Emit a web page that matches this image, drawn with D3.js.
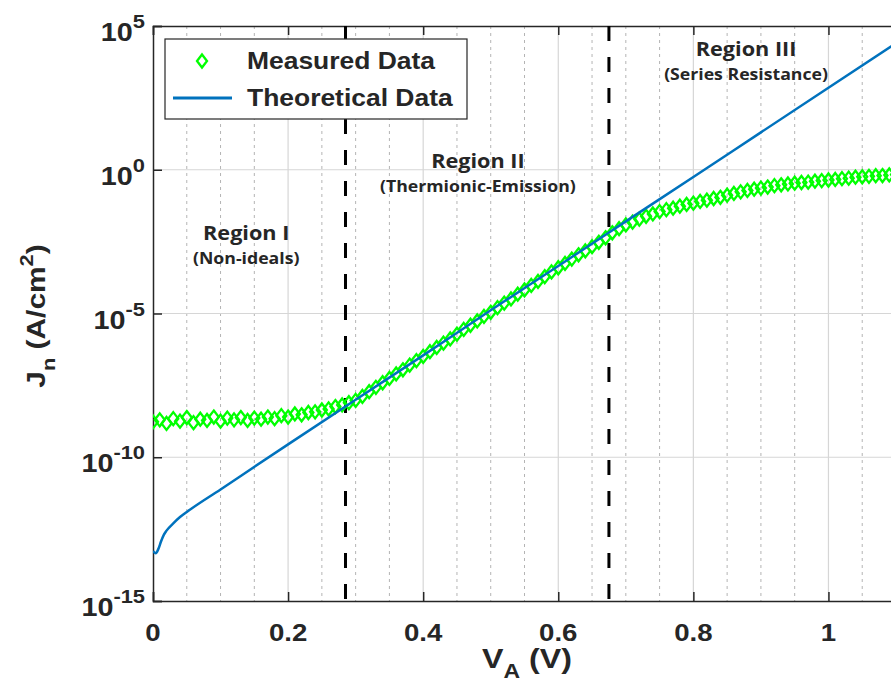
<!DOCTYPE html>
<html>
<head>
<meta charset="utf-8">
<script src="https://cdn.jsdelivr.net/npm/d3@7"></script>
<style>
  body { margin: 0; background: #fff; }
  text { font-family: "Liberation Sans", Arial, Helvetica, sans-serif; font-weight: bold; fill: #262626; }
  .region text { font-family: "Open Sans", sans-serif; }
</style>
</head>
<body>
<svg id="chart" width="891" height="700"></svg>
<script>
// measured J-V data (A/cm^2), one point every 10 mV
var vMeasured = [
  0.00, 0.01, 0.02, 0.03, 0.04, 0.05, 0.06, 0.07, 0.08, 0.09,
  0.10, 0.11, 0.12, 0.13, 0.14, 0.15, 0.16, 0.17, 0.18, 0.19,
  0.20, 0.21, 0.22, 0.23, 0.24, 0.25, 0.26, 0.27, 0.28, 0.29,
  0.30, 0.31, 0.32, 0.33, 0.34, 0.35, 0.36, 0.37, 0.38, 0.39,
  0.40, 0.41, 0.42, 0.43, 0.44, 0.45, 0.46, 0.47, 0.48, 0.49,
  0.50, 0.51, 0.52, 0.53, 0.54, 0.55, 0.56, 0.57, 0.58, 0.59,
  0.60, 0.61, 0.62, 0.63, 0.64, 0.65, 0.66, 0.67, 0.68, 0.69,
  0.70, 0.71, 0.72, 0.73, 0.74, 0.75, 0.76, 0.77, 0.78, 0.79,
  0.80, 0.81, 0.82, 0.83, 0.84, 0.85, 0.86, 0.87, 0.88, 0.89,
  0.90, 0.91, 0.92, 0.93, 0.94, 0.95, 0.96, 0.97, 0.98, 0.99,
  1.00, 1.01, 1.02, 1.03, 1.04, 1.05, 1.06, 1.07, 1.08, 1.09,
  1.10
];
var jMeasured = [
  1.7e-9, 2.0e-9, 1.5e-9, 2.2e-9, 1.8e-9, 2.4e-9, 1.6e-9, 2.1e-9, 1.9e-9, 2.5e-9,
  1.8e-9, 2.3e-9, 2.0e-9, 2.4e-9, 1.9e-9, 2.3e-9, 2.1e-9, 2.5e-9, 2.2e-9, 2.8e-9,
  2.5e-9, 3.2e-9, 3.0e-9, 3.6e-9, 3.8e-9, 4.4e-9, 4.8e-9, 5.8e-9, 6.6e-9, 7.9e-9,
  9.5e-9, 1.3e-8, 1.9e-8, 2.7e-8, 3.9e-8, 5.5e-8, 7.9e-8, 1.1e-7, 1.6e-7, 2.3e-7,
  3.2e-7, 4.7e-7, 6.6e-7, 9.3e-7, 1.3e-6, 1.9e-6, 2.8e-6, 3.9e-6, 5.5e-6, 7.9e-6,
  1.1e-5, 1.6e-5, 2.3e-5, 3.2e-5, 4.7e-5, 6.6e-5, 9.5e-5, 1.3e-4, 1.9e-4, 2.8e-4,
  3.9e-4, 5.5e-4, 7.8e-4, 1.1e-3, 1.5e-3, 2.1e-3, 3.0e-3, 4.3e-3, 6.4e-3, 8.9e-3,
  1.2e-2, 1.5e-2, 1.9e-2, 2.4e-2, 2.9e-2, 3.5e-2, 4.1e-2, 4.6e-2, 5.4e-2, 6.2e-2,
  6.9e-2, 7.9e-2, 8.7e-2, 0.10, 0.11, 0.13, 0.15, 0.17, 0.19, 0.21,
  0.23, 0.25, 0.28, 0.30, 0.32, 0.34, 0.36, 0.37, 0.40, 0.42,
  0.44, 0.46, 0.49, 0.51, 0.55, 0.57, 0.59, 0.62, 0.63, 0.66,
  0.68
];

// theoretical curve
var vTheory = [0, 0.004, 0.008, 0.012, 0.016, 0.02, 0.03, 0.04, 0.05, 0.1, 0.2, 0.3, 0.4, 0.5, 0.6, 0.7, 0.8, 0.9, 1.0, 1.1];
var jTheory = [5.4e-14, 4.6e-14, 6.5e-14, 1.2e-13, 2.0e-13, 2.8e-13, 5.0e-13, 8.3e-13, 1.25e-12, 7.6e-12, 2.8e-10,
               1.0e-8, 3.5e-7, 1.3e-5, 4.5e-4, 1.6e-2, 0.56, 20, 710, 2.5e4];

// region boundaries (V) and labels
var boundaries = [0.285, 0.675];
var regionTitles = ["Region I", "Region II", "Region III"];
var regionNotes = ["(Non-ideals)", "(Thermionic-Emission)", "(Series Resistance)"];

// axis ticks
var xTicks = [0, 0.2, 0.4, 0.6, 0.8, 1];
var xTickLabels = ["0", "0.2", "0.4", "0.6", "0.8", "1"];
var xMinor = [0.05, 0.1, 0.15, 0.25, 0.3, 0.35, 0.45, 0.5, 0.55, 0.65, 0.7, 0.75, 0.85, 0.9, 0.95, 1.05];
var yTicks = [1e-15, 1e-10, 1e-5, 1e0, 1e5];
var yTickExp = ["-15", "-10", "-5", "0", "5"];

var legendNames = ["Measured Data", "Theoretical Data"];

var svg = d3.select("#chart"),
    pLeft = 153, pRight = 896, pTop = 26, pBottom = 601,
    sx = 1.15; // wide lettering of the original

var x = d3.scaleLinear().domain([0, 1.1]).range([pLeft, pRight]);
var y = d3.scaleLog().domain([1e-15, 1e5]).range([pBottom, pTop]);

var measured = vMeasured.map(function(v, i) { return [v, jMeasured[i]]; });
var theory = vTheory.map(function(v, i) { return [v, jTheory[i]]; });

// region annotation anchors (data coords)
var regionAt = [[0.138, 3.6e-3], [0.481, 1.15], [0.878, 9e3]];

svg.append("clipPath").attr("id", "clip")
  .append("rect")
    .attr("x", pLeft).attr("y", pTop)
    .attr("width", pRight - pLeft).attr("height", pBottom - pTop);

// grid
var grid = svg.append("g");
grid.selectAll(".minor").data(xMinor).enter().append("line")
    .attr("x1", function(d) { return x(d); }).attr("x2", function(d) { return x(d); })
    .attr("y1", pTop).attr("y2", pBottom)
    .attr("stroke", "#b4b4b4").attr("stroke-width", 1).attr("stroke-dasharray", "3,4");
grid.selectAll(".majx").data(xTicks.slice(1)).enter().append("line")
    .attr("x1", function(d) { return x(d); }).attr("x2", function(d) { return x(d); })
    .attr("y1", pTop).attr("y2", pBottom)
    .attr("stroke", "#d6d6d6").attr("stroke-width", 1.2);
grid.selectAll(".majy").data(yTicks.slice(1, -1)).enter().append("line")
    .attr("x1", pLeft).attr("x2", pRight)
    .attr("y1", function(d) { return y(d); }).attr("y2", function(d) { return y(d); })
    .attr("stroke", "#d6d6d6").attr("stroke-width", 1.2);

// axes
var axB = svg.append("g").attr("transform", "translate(0," + pBottom + ")")
    .call(d3.axisBottom(x).tickValues(xTicks).tickSize(-9).tickFormat(""));
var axT = svg.append("g").attr("transform", "translate(0," + pTop + ")")
    .call(d3.axisTop(x).tickValues(xTicks).tickSize(-9).tickFormat(""));
var axL = svg.append("g").attr("transform", "translate(" + pLeft + ",0)")
    .call(d3.axisLeft(y).tickValues(yTicks).tickSize(-9).tickFormat(""));
[axB, axT, axL].forEach(function(a) {
  a.select(".domain").attr("stroke", "#262626").attr("stroke-width", 1.5);
  a.selectAll(".tick line").attr("stroke", "#262626").attr("stroke-width", 1.5);
});

// tick labels
svg.selectAll(".xlab").data(xTicks).enter().append("text")
    .attr("transform", function(d) { return "translate(" + x(d) + ",641) scale(" + sx + ",1)"; })
    .attr("text-anchor", "middle")
    .style("font-size", "24px")
    .text(function(d, i) { return xTickLabels[i]; });

var yl = svg.selectAll(".ylab").data(yTicks).enter().append("text")
    .attr("transform", function(d) { return "translate(145," + (y(d) + 15) + ") scale(" + sx + ",1)"; })
    .attr("text-anchor", "end")
    .style("font-size", "25px");
yl.append("tspan").text("10");
yl.append("tspan").attr("dy", -13).style("font-size", "19px").text(function(d, i) { return yTickExp[i]; });

// axis titles
var xt = svg.append("text")
    .attr("transform", "translate(527,668) scale(" + sx + ",1)")
    .attr("text-anchor", "middle")
    .style("font-size", "28px");
xt.append("tspan").text("V");
xt.append("tspan").attr("dy", 10).style("font-size", "20px").text("A");
xt.append("tspan").attr("dy", -10).text(" (V)");

var ytl = svg.append("text")
    .attr("transform", "translate(45,316) rotate(-90) scale(" + sx + ",1)")
    .attr("text-anchor", "middle")
    .style("font-size", "26px");
ytl.append("tspan").text("J");
ytl.append("tspan").attr("dy", 10).style("font-size", "19px").text("n");
ytl.append("tspan").attr("dy", -10).text(" (A/cm");
ytl.append("tspan").attr("dy", -12).style("font-size", "19px").text("2");
ytl.append("tspan").attr("dy", 12).text(")");

// plot content
var plot = svg.append("g").attr("clip-path", "url(#clip)");

plot.selectAll(".bound").data(boundaries).enter().append("line")
    .attr("x1", function(d) { return x(d); }).attr("x2", function(d) { return x(d); })
    .attr("y1", y(1e5)).attr("y2", y(1e-15))
    .attr("stroke", "#000").attr("stroke-width", 3).attr("stroke-dasharray", "15,16");

var diamond = "M0,-6.5L5,0L0,6.5L-5,0Z";

plot.selectAll(".meas").data(measured).enter().append("path")
    .attr("d", diamond)
    .attr("transform", function(d) { return "translate(" + x(d[0]) + "," + y(d[1]) + ")"; })
    .attr("fill", "none").attr("stroke", "#00ff00").attr("stroke-width", 2.3);

plot.append("path")
    .datum(theory)
    .attr("fill", "none").attr("stroke", "#0072bd").attr("stroke-width", 2.5)
    .attr("d", d3.line().curve(d3.curveMonotoneX)
      .x(function(d) { return x(d[0]); }).y(function(d) { return y(d[1]); }));

// region annotations
var reg = svg.selectAll(".region").data(regionTitles).enter().append("g")
    .attr("class", "region")
    .attr("transform", function(d, i) { return "translate(" + x(regionAt[i][0]) + "," + y(regionAt[i][1]) + ")"; });
reg.append("text")
    .attr("text-anchor", "middle").attr("transform", "scale(1.14,1)")
    .style("font-size", "19px").text(function(d) { return d; });
reg.append("text")
    .attr("text-anchor", "middle").attr("transform", "translate(0,24) scale(1.14,1)")
    .style("font-size", "15.5px").text(function(d, i) { return regionNotes[i]; });

// legend
var lg = svg.append("g").attr("transform", "translate(165,39)");
lg.append("rect").attr("width", 302).attr("height", 80)
    .attr("fill", "#fff").attr("stroke", "#262626").attr("stroke-width", 1.2);
lg.append("path").attr("d", diamond).attr("transform", "translate(37,22)")
    .attr("fill", "none").attr("stroke", "#00ff00").attr("stroke-width", 2.3);
lg.append("line").attr("x1", 8).attr("x2", 67).attr("y1", 59).attr("y2", 59)
    .attr("stroke", "#0072bd").attr("stroke-width", 3);
lg.selectAll(".lt").data(legendNames).enter().append("text")
    .attr("transform", function(d, i) { return "translate(82," + (30 + i * 37) + ") scale(" + sx + ",1)"; })
    .style("font-size", "23px")
    .text(function(d) { return d; });
</script>
</body>
</html>
